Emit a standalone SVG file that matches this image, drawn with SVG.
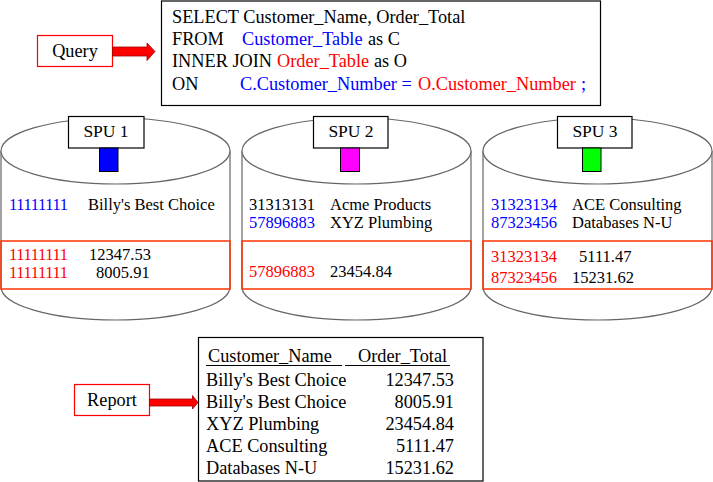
<svg xmlns="http://www.w3.org/2000/svg" width="713" height="482" viewBox="0 0 713 482">
<defs>
<style>
text{font-family:"Liberation Serif","Times New Roman",serif;fill:#000}
.q{font-size:18.3px}
.c{font-size:16.5px}
.s{font-size:17.5px}
.b{fill:#0000ff}
.r{fill:#ff0000}
.box{fill:#fff;stroke:#000;stroke-width:1.2}
.rbox{fill:#fff;stroke:#ff0000;stroke-width:1.2}
.cyl{fill:#fff;stroke:#666;stroke-width:1.2}
.band{fill:none;stroke:#ff3300;stroke-width:1.5}
.arrow{fill:#ff0000;stroke:#a00000;stroke-width:0.8}
</style>
</defs>

<g id="query">
<rect class="rbox" x="37.5" y="35.5" width="75" height="31"/>
<text class="q" x="75" y="57" text-anchor="middle">Query</text>
</g>

<g id="sql">
<rect class="box" x="161.5" y="1" width="439" height="104.5"/>
<text class="q" x="172" y="23">SELECT Customer_Name, Order_Total</text>
<text class="q" x="172" y="45">FROM</text>
<text class="q b" x="242" y="45">Customer_Table</text>
<text class="q" x="368" y="45">as C</text>
<text class="q" x="172" y="67">INNER JOIN</text>
<text class="q r" x="277" y="67">Order_Table</text>
<text class="q" x="374" y="67">as O</text>
<text class="q" x="172" y="90">ON</text>
<text class="q b" x="240" y="90">C.Customer_Number =</text>
<text class="q r" x="418" y="90">O.Customer_Number</text>
<text class="q b" x="581" y="90">;</text>
</g>

<g id="spu1">
<path class="cyl" d="M1,151 L1,287 A114.5,33 0 0 0 230,287 L230,151"/>
<ellipse class="cyl" cx="115.5" cy="151" rx="114.5" ry="33"/>
<rect class="band" x="1" y="241" width="229" height="48"/>
<rect class="box" x="68.5" y="116.5" width="75.5" height="31.5"/>
<text class="s" x="106" y="137" text-anchor="middle">SPU 1</text>
<rect x="99.5" y="148" width="18.5" height="23.5" fill="#0000ff" stroke="#000" stroke-width="1"/>
<text class="c b" x="9" y="210" textLength="59">11111111</text>
<text class="c" x="88" y="210">Billy's Best Choice</text>
<text class="c r" x="9" y="260" textLength="59">11111111</text>
<text class="c" x="89" y="260">12347.53</text>
<text class="c r" x="9" y="278" textLength="59">11111111</text>
<text class="c" x="96" y="278">8005.91</text>
</g>

<g id="spu2">
<path class="cyl" d="M242,151 L242,287 A114.5,33 0 0 0 471,287 L471,151"/>
<ellipse class="cyl" cx="356.5" cy="151" rx="114.5" ry="33"/>
<rect class="band" x="242" y="241" width="229" height="48"/>
<rect class="box" x="313.5" y="116.5" width="74.5" height="31.5"/>
<text class="s" x="351" y="137" text-anchor="middle">SPU 2</text>
<rect x="340.5" y="148" width="19" height="23.5" fill="#ff00ff" stroke="#000" stroke-width="1"/>
<text class="c" x="249" y="210">31313131</text>
<text class="c" x="330" y="210">Acme Products</text>
<text class="c b" x="249" y="228">57896883</text>
<text class="c" x="330" y="228">XYZ Plumbing</text>
<text class="c r" x="249" y="277">57896883</text>
<text class="c" x="330" y="277">23454.84</text>
</g>

<g id="spu3">
<path class="cyl" d="M483,151 L483,287 A114.5,33 0 0 0 712,287 L712,151"/>
<ellipse class="cyl" cx="597.5" cy="151" rx="114.5" ry="33"/>
<rect class="band" x="483" y="241" width="229" height="48"/>
<rect class="box" x="557.5" y="116.5" width="74.5" height="31.5"/>
<text class="s" x="595" y="137" text-anchor="middle">SPU 3</text>
<rect x="582.5" y="148" width="18.5" height="23.5" fill="#00ff00" stroke="#000" stroke-width="1"/>
<text class="c b" x="491" y="210">31323134</text>
<text class="c" x="572" y="210">ACE Consulting</text>
<text class="c b" x="491" y="228">87323456</text>
<text class="c" x="572" y="228">Databases N-U</text>
<text class="c r" x="491" y="262">31323134</text>
<text class="c" x="579" y="262">5111.47</text>
<text class="c r" x="491" y="283">87323456</text>
<text class="c" x="572" y="283">15231.62</text>
</g>

<g id="report">
<rect class="rbox" x="74.5" y="384.5" width="75" height="31"/>
<text class="q" x="112" y="406" text-anchor="middle">Report</text>
</g>

<g id="result">
<rect class="box" x="198.5" y="337.5" width="284.5" height="143.5"/>
<text class="q" x="208" y="362">Customer_Name</text>
<text class="q" x="358" y="362">Order_Total</text>
<line x1="206" y1="365.5" x2="342" y2="365.5" stroke="#000" stroke-width="1"/>
<line x1="345" y1="365.5" x2="450" y2="365.5" stroke="#000" stroke-width="1"/>
<text class="q" x="206" y="386">Billy's Best Choice</text>
<text class="q" x="454" y="386" text-anchor="end">12347.53</text>
<text class="q" x="206" y="408">Billy's Best Choice</text>
<text class="q" x="454" y="408" text-anchor="end">8005.91</text>
<text class="q" x="206" y="430">XYZ Plumbing</text>
<text class="q" x="454" y="430" text-anchor="end">23454.84</text>
<text class="q" x="206" y="452">ACE Consulting</text>
<text class="q" x="454" y="452" text-anchor="end">5111.47</text>
<text class="q" x="206" y="474">Databases N-U</text>
<text class="q" x="454" y="474" text-anchor="end">15231.62</text>
</g>

<g id="connectors">
<path class="arrow" d="M112.5,47 L147,47 L147,43 L155,51.5 L147,60.5 L147,56 L112.5,56 Z"/>
<path class="arrow" d="M149.5,399 L192.5,399 L192.5,395.5 L198,402.5 L192.5,409 L192.5,406 L149.5,406 Z"/>
</g>
</svg>
